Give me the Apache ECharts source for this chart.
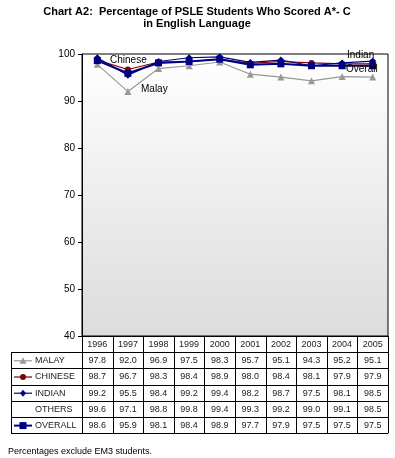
<!DOCTYPE html>
<html><head><meta charset="utf-8">
<script src="https://cdn.jsdelivr.net/npm/echarts@6/dist/echarts.min.js"></script>
<style>html,body{margin:0;padding:0;background:#fff}#c{width:395px;height:458px}</style>
</head><body><div id="c"></div>
<script>
var years = ['1996','1997','1998','1999','2000','2001','2002','2003','2004','2005'];
var malay   = [97.8, 92.0, 96.9, 97.5, 98.3, 95.7, 95.1, 94.3, 95.2, 95.1];
var chinese = [98.7, 96.7, 98.3, 98.4, 98.9, 98.0, 98.4, 98.1, 97.9, 97.9];
var indian  = [99.2, 95.5, 98.4, 99.2, 99.4, 98.2, 98.7, 97.5, 98.1, 98.5];
var others  = [99.6, 97.1, 98.8, 99.8, 99.4, 99.3, 99.2, 99.0, 99.1, 98.5];
var overall = [98.6, 95.9, 98.1, 98.4, 98.9, 97.7, 97.9, 97.5, 97.5, 97.5];
var yTicks = [40, 50, 60, 70, 80, 90, 100];
var rowNames = ['MALAY','CHINESE','INDIAN','OTHERS','OVERALL'];
var rowData = [malay, chinese, indian, others, overall];
var rowColors = ['#999999','#800000','#000080',null,'#000080'];
var rowSymbols = ['triangle','circle','diamond',null,'rect'];

var FONT = 'Liberation Sans, Arial, sans-serif';
var chart = echarts.init(document.getElementById('c'), null, {renderer:'canvas'});

function lineSeries(name, data, color, symbol, size, width) {
  return {
    name: name, type: 'line', data: data, symbol: symbol, symbolSize: size,
    lineStyle: {color: color, width: width}, itemStyle: {color: color},
    animation: false, z: 3
  };
}

chart.setOption({
  animation: false,
  grid: {
    left: 82, right: 7, top: 54, bottom: 122, show: true,
    borderColor: '#000', borderWidth: 1,
    backgroundColor: {type: 'linear', x: 0, y: 0, x2: 0, y2: 1,
      colorStops: [{offset: 0, color: '#ffffff'}, {offset: 1, color: '#dcdcdc'}]}
  },
  xAxis: {
    type: 'category', data: years, boundaryGap: true,
    axisLine: {show: true, lineStyle: {color: '#000'}},
    axisTick: {show: false}, axisLabel: {show: false}, splitLine: {show: false}
  },
  yAxis: {
    type: 'value', min: yTicks[0], max: yTicks[yTicks.length - 1], interval: 10,
    axisLine: {show: true, lineStyle: {color: '#000'}},
    axisTick: {show: true, length: 4, lineStyle: {color: '#000'}},
    axisLabel: {fontFamily: FONT, fontSize: 10, color: '#000', margin: 7},
    splitLine: {show: false}
  },
  series: [
    lineSeries('Malay', malay, '#999999', 'triangle', 7, 1.2),
    lineSeries('Chinese', chinese, '#800000', 'circle', 6, 1.2),
    lineSeries('Indian', indian, '#000080', 'diamond', 7, 1.2),
    lineSeries('Overall', overall, '#000080', 'rect', 7, 2)
  ]
});

var g = [];
var half = (chart.convertToPixel({xAxisIndex: 0}, 1) - chart.convertToPixel({xAxisIndex: 0}, 0)) / 2;
var x0 = chart.convertToPixel({xAxisIndex: 0}, 0) - half;
var xEnd = chart.convertToPixel({xAxisIndex: 0}, years.length - 1) + half;
var yTop = chart.convertToPixel({yAxisIndex: 0}, yTicks[0]);
var rowH = 16.2;
var labelLeft = 11;
var border = {stroke: '#000', lineWidth: 1};
function hline(x1, x2, y) { g.push({type: 'line', shape: {x1: x1, y1: Math.round(y) + 0.5, x2: x2, y2: Math.round(y) + 0.5}, style: border, silent: true}); }
function vline(x, y1, y2) { g.push({type: 'line', shape: {x1: Math.round(x) + 0.5, y1: y1, x2: Math.round(x) + 0.5, y2: y2}, style: border, silent: true}); }
function txt(x, y, s, align) {
  g.push({type: 'text', x: x, y: y, style: {text: s, fontFamily: FONT, fontSize: 9, fill: '#222', align: align || 'center', verticalAlign: 'middle'}, silent: true});
}
// title
g.push({type: 'text', x: 197, y: 6, style: {text: 'Chart A2:  Percentage of PSLE Students Who Scored A*- C\nin English Language',
  fontFamily: FONT, fontSize: 11, fontWeight: 'bold', lineHeight: 12, fill: '#000', align: 'center', verticalAlign: 'top'}, silent: true});

var nRows = rowNames.length + 1;
var yBottom = yTop + rowH * nRows;
hline(x0, xEnd, yTop);
for (var r = 1; r <= nRows; r++) hline(labelLeft, xEnd, yTop + rowH * r);
vline(labelLeft, yTop + rowH, yBottom);
for (var c = 0; c <= years.length; c++) vline(x0 + c * 2 * half, yTop, yBottom);
for (var c = 0; c < years.length; c++) {
  var cx = x0 + (2 * c + 1) * half;
  txt(cx, yTop + rowH / 2 + 0.5, years[c]);
  for (var r = 0; r < rowNames.length; r++) {
    txt(cx, yTop + rowH * (r + 1.5) + 0.5, rowData[r][c].toFixed(1));
  }
}
for (var r = 0; r < rowNames.length; r++) {
  var cy = yTop + rowH * (r + 1.5) + 0.5;
  txt(35, cy, rowNames[r], 'left');
  if (rowColors[r]) {
    g.push({type: 'line', shape: {x1: 14, y1: cy, x2: 32, y2: cy}, style: {stroke: rowColors[r], lineWidth: r === 4 ? 2 : 1.2}, silent: true});
    var s = rowSymbols[r];
    if (s === 'circle') {
      g.push({type: 'circle', shape: {cx: 23, cy: cy, r: 3}, style: {fill: rowColors[r]}, silent: true});
    } else {
      var pts = s === 'triangle' ? [[0,-3.5],[3.5,3],[-3.5,3]] :
                s === 'diamond' ? [[0,-3.5],[3,0],[0,3.5],[-3,0]] :
                [[-3.5,-3.5],[3.5,-3.5],[3.5,3.5],[-3.5,3.5]];
      g.push({type: 'polygon', shape: {points: pts.map(function(p){return [23 + p[0], cy + p[1]];})}, style: {fill: rowColors[r]}, silent: true});
    }
  }
}
g.push({type: 'text', x: 8, y: 452, style: {text: 'Percentages exclude EM3 students.', fontFamily: FONT, fontSize: 9, fill: '#000', verticalAlign: 'middle'}, silent: true});
function ann(s, x, y) {
  g.push({type: 'text', x: x, y: y, style: {text: s, fontFamily: FONT, fontSize: 10, fill: '#000', verticalAlign: 'middle'}, z: 10, silent: true});
}
ann('Chinese', 110, 60);
ann('Malay', 141, 89);
ann('Indian', 347, 55);
ann('Overall', 346, 69);
chart.setOption({graphic: g});
</script></body></html>
